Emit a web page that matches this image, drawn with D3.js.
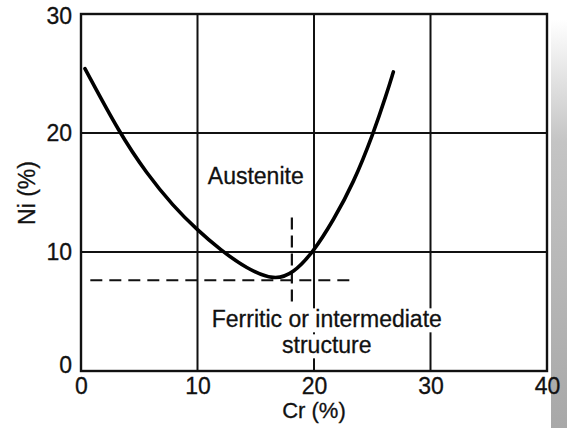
<!DOCTYPE html>
<html>
<head>
<meta charset="utf-8">
<script src="https://cdn.jsdelivr.net/npm/d3@7"></script>
<style>
  html, body { margin: 0; padding: 0; background: #fff; }
  svg { display: block; font-family: 'Liberation Sans', Arial, sans-serif; }
  svg text { stroke: #111; stroke-width: 0.3px; }
</style>
</head>
<body>
<svg id="chart" width="567" height="428"></svg>
<script>
// boundary curve (Cr %, Ni %)
const cr_values = [0.34, 3.3, 5.64, 7.92, 9.93, 11.93, 14.22, 16.6, 18.22, 19.94, 21.66, 23.37, 25.09, 26.24, 26.81];
const ni_values = [25.41, 20.0, 16.59, 13.85, 11.9, 10.2, 8.6, 7.6, 8.2, 10.0, 12.66, 15.75, 19.95, 23.31, 25.13];

const x_ticks = [0, 10, 20, 30, 40];
const y_ticks = [0, 10, 20, 30];
const grid_x = [10, 20, 30];
const grid_y = [10, 20];

// dashed reference lines
const ref_cr = 18.1, ref_cr_span = [5.35, 12.9];
const ref_ni = 7.62, ref_ni_span = [0.8, 23.5];

const region_labels = ['Austenite'];
const ferritic_lines = ['Ferritic or intermediate', 'structure'];

const svg = d3.select('svg#chart'),
  margin = { top: 14, right: 20, bottom: 57, left: 81 },
  width = +svg.attr('width') - margin.left - margin.right,
  height = +svg.attr('height') - margin.top - margin.bottom;

const x = d3.scaleLinear().domain([0, 40]).range([0, width]);
const y = d3.scaleLinear().domain([0, 30]).range([height, 0]);

// scanner smudge along the right edge
const defs = svg.append('defs');
const grad = defs.append('linearGradient')
  .attr('id', 'smudge').attr('x1', 0).attr('y1', 0).attr('x2', 0).attr('y2', 1);
grad.append('stop').attr('offset', '0%').attr('stop-color', '#fff');
grad.append('stop').attr('offset', '30%').attr('stop-color', '#c4c4c4');
grad.append('stop').attr('offset', '100%').attr('stop-color', '#a8a8a8');
svg.append('rect')
  .attr('x', 551).attr('y', 20).attr('width', 16).attr('height', 408)
  .attr('fill', 'url(#smudge)');

const g = svg.append('g').attr('transform', `translate(${margin.left},${margin.top})`);

// grid
g.append('g')
  .selectAll('line')
  .data(grid_y)
  .enter()
  .append('line')
  .attr('x1', 0).attr('x2', width)
  .attr('y1', d => y(d)).attr('y2', d => y(d))
  .attr('stroke', '#111').attr('stroke-width', 2);

g.append('g')
  .selectAll('line')
  .data(grid_x)
  .enter()
  .append('line')
  .attr('x1', d => x(d)).attr('x2', d => x(d))
  .attr('y1', 0).attr('y2', height)
  .attr('stroke', '#111').attr('stroke-width', 2);

// dashed lines
g.append('line')
  .attr('x1', x(ref_ni_span[0])).attr('x2', x(ref_ni_span[1]))
  .attr('y1', y(ref_ni)).attr('y2', y(ref_ni))
  .attr('stroke', '#111').attr('stroke-width', 2)
  .attr('stroke-dasharray', '12 7');

g.append('line')
  .attr('x1', x(ref_cr)).attr('x2', x(ref_cr))
  .attr('y1', y(ref_cr_span[1])).attr('y2', y(ref_cr_span[0]))
  .attr('stroke', '#111').attr('stroke-width', 2.2)
  .attr('stroke-dasharray', '12 6');

// boundary curve
const line = d3.line()
  .x((d, i) => x(cr_values[i]))
  .y(d => y(d))
  .curve(d3.curveBasis);

g.append('path')
  .datum(ni_values)
  .attr('d', line)
  .attr('fill', 'none')
  .attr('stroke', '#000')
  .attr('stroke-width', 3.6)
  .attr('stroke-linecap', 'round');

// frame
g.append('rect')
  .attr('width', width).attr('height', height)
  .attr('fill', 'none').attr('stroke', '#111').attr('stroke-width', 2.4);

// axes
const x_axis = g.append('g')
  .attr('transform', `translate(0,${height})`)
  .call(d3.axisBottom(x).tickValues(x_ticks).tickSize(0).tickPadding(9).tickFormat(d3.format('d')));
const y_axis = g.append('g')
  .call(d3.axisLeft(y).tickValues(y_ticks).tickSize(0).tickPadding(9).tickFormat(d3.format('d')));

[x_axis, y_axis].forEach(a => {
  a.select('.domain').remove();
  a.selectAll('text')
    .attr('fill', '#111')
    .style('font-size', '23px')
    .style('font-family', '\'Liberation Sans\', Arial, sans-serif');
});
x_axis.selectAll('text').attr('dy', '0.62em');
y_axis.selectAll('.tick').filter(d => d === 0).select('text').attr('dy', '0.05em');
y_axis.selectAll('.tick').filter(d => d === 30).select('text').attr('dy', '0.4em');

// axis titles
g.append('text')
  .attr('x', x(20)).attr('y', height + 47)
  .attr('text-anchor', 'middle')
  .style('font-size', '22px')
  .attr('fill', '#111')
  .text('Cr (%)');

g.append('text')
  .attr('transform', `translate(${27 - margin.left},${193 - margin.top}) rotate(-90)`)
  .attr('text-anchor', 'middle')
  .attr('dy', '0.36em')
  .style('font-size', '23px')
  .attr('fill', '#111')
  .text('Ni (%)');

// region labels
g.append('text')
  .attr('x', x(15.0)).attr('y', y(15.75))
  .attr('text-anchor', 'middle')
  .style('font-size', '23px')
  .attr('fill', '#111')
  .text(region_labels[0]);

const ferr = g.append('g');
ferritic_lines.forEach((t, i) => {
  const txt = ferr.append('text')
    .attr('x', x(21.1)).attr('y', y(3.67) + i * 26)
    .attr('text-anchor', 'middle')
    .style('font-size', '23px')
    .attr('fill', '#111')
    .text(t);
  const b = txt.node().getBBox();
  ferr.insert('rect', 'text')
    .attr('x', b.x - 3).attr('y', b.y + 2)
    .attr('width', b.width + 6).attr('height', b.height - 2)
    .attr('fill', '#fff')
    .attr('stroke', 'none');
});
</script>
</body>
</html>
